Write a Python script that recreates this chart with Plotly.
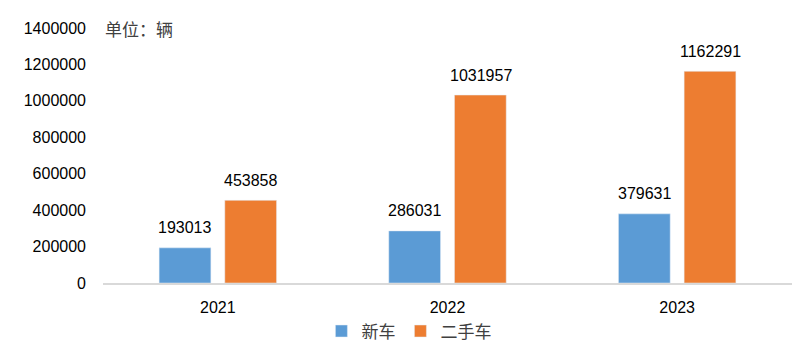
import plotly.graph_objects as go

years = ["2021", "2022", "2023"]
new_car = [193013, 286031, 379631]
used_car = [453858, 1031957, 1162291]
series_names = ["新车", "二手车"]
colors = ["#5B9BD5", "#ED7D31"]
y_ticks = [0, 200000, 400000, 600000, 800000, 1000000, 1200000, 1400000]

num_font = "Liberation Sans, Arial, sans-serif"
cjk_font = "Noto Sans CJK SC, sans-serif"

fig = go.Figure()
for name, vals, col in zip(series_names, [new_car, used_car], colors):
    fig.add_trace(go.Bar(x=years, y=vals, name=name, marker_color=col))

# data labels above bars (offset per group slot); x given as category index
annos = []
for shift, vals in zip([-33, 33], [new_car, used_car]):
    for i, v in enumerate(vals):
        annos.append(dict(x=i, y=v, xref="x", yref="y", text=str(v), showarrow=False,
                          xshift=shift, yshift=20, xanchor="center", yanchor="middle",
                          font=dict(size=16, color="#000000", family=num_font)))
annos.append(dict(text="单位：辆", x=0, xref="paper", y=1400000, yref="y",
                  xanchor="left", yanchor="middle", showarrow=False, xshift=0,
                  font=dict(size=17, color="#404040", family=cjk_font)))

fig.update_layout(
    width=800, height=353,
    margin=dict(l=95, r=16, t=20, b=78),
    paper_bgcolor="white", plot_bgcolor="white",
    barmode="group", bargap=0.428, bargroupgap=0.212,
    font=dict(family=num_font, size=16, color="#000000"),
    showlegend=True,
    legend=dict(orientation="h", x=0.444, xanchor="center", y=-0.19, yanchor="middle",
                font=dict(size=17, color="#404040", family=cjk_font),
                itemwidth=30, traceorder="normal"),
    xaxis=dict(type="category", range=[-0.5, len(years) - 0.5], showline=True,
               linecolor="#D9D9D9", linewidth=1.5,
               ticks="outside", ticklen=9, tickcolor="rgba(0,0,0,0)",
               tickfont=dict(size=16), showgrid=False),
    yaxis=dict(range=[0, 1400000], tickvals=y_ticks, ticktext=[str(v) for v in y_ticks],
               showgrid=False, zeroline=False, showline=False, ticks="",
               tickfont=dict(size=16), ticklabelstandoff=16),
    annotations=annos,
)

fig.write_html("out.html")
